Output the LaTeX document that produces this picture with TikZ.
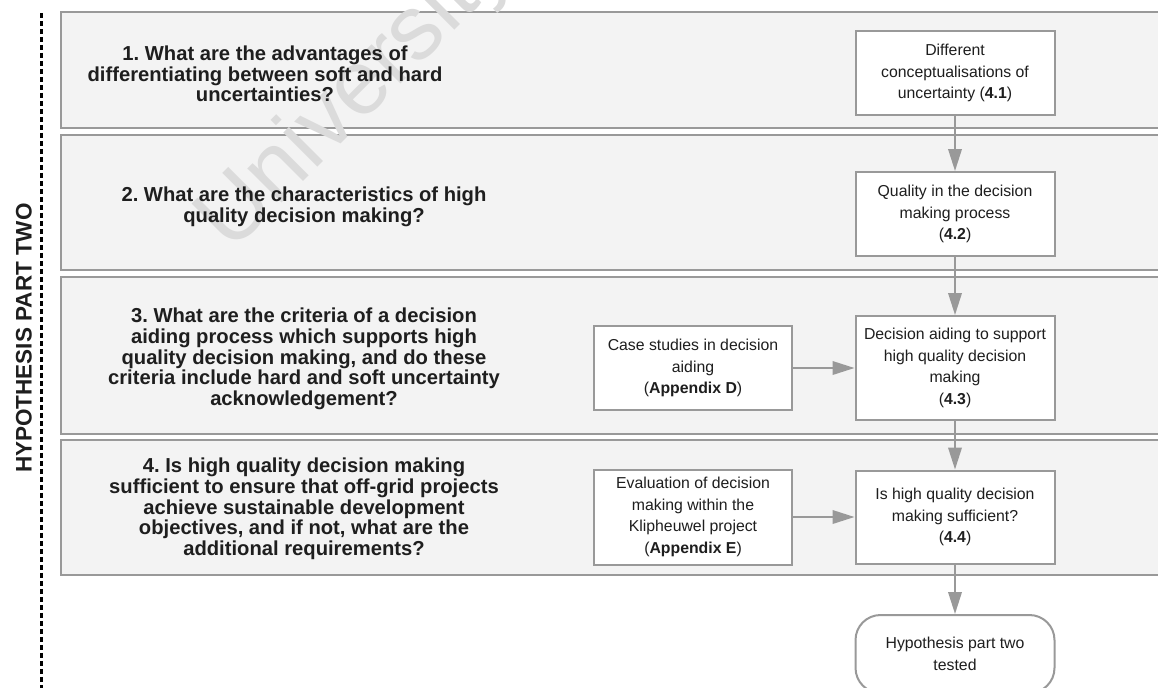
\documentclass[tikz,border=0pt]{standalone}
\usepackage{fontspec}
\setmainfont{Liberation Sans}
\usetikzlibrary{arrows.meta}
\definecolor{bandfill}{HTML}{F3F3F3}
\definecolor{lineg}{HTML}{999999}
\definecolor{txt}{HTML}{1E1E1E}

\tikzset{
  band/.style={draw=lineg, line width=0.05cm, fill=bandfill},
  question/.style={align=center, text=txt, inner sep=0pt,
    font=\fontsize{11.5}{11.8}\selectfont\bfseries\frenchspacing},
  topicbox/.style={draw=lineg, line width=0.04cm, fill=white, align=center,
    text=txt, inner sep=0pt, minimum width=3.98cm,
    font=\fontsize{9}{12.4}\selectfont},
  flowarrow/.style={draw=lineg, line width=0.04cm,
    -{Triangle[length=0.44cm,width=0.27cm]}},
}

\begin{document}
\begin{tikzpicture}[x=0.02cm, y=-0.02cm]
\useasboundingbox (0,0) rectangle (1158,687);

% bands
\draw[band] (61,12) rectangle (1180,128);
\draw[band] (61,135) rectangle (1180,270);
\draw[band] (61,277) rectangle (1180,434);
\draw[band] (61,440) rectangle (1180,575);

% watermark
\node[rotate=45, text=black!14, inner sep=0pt, font=\fontsize{52}{52}\selectfont, anchor=base west] (mark) at (231,254) {University};

% side label
\draw[black, line width=0.06cm, dash pattern=on 0.1cm off 0.06cm] (41,13) -- (41,700);
\node[rotate=90, font=\fontsize{12.8}{13}\selectfont\bfseries, text=txt] (hyp) at (24,338) {HYPOTHESIS PART TWO};

% questions
{
\node[question] (qone) at (265,74) {1. What are the advantages of\\differentiating between soft and hard\\uncertainties?};
\node[question] (qtwo) at (304,207) {2. What are the characteristics of high\\quality decision making?};
\node[question] (qthree) at (304,359) {3. What are the criteria of a decision\\aiding process which supports high\\quality decision making, and do these\\criteria include hard and soft uncertainty\\acknowledgement?};
\node[question] (qfour) at (304,509) {4. Is high quality decision making\\sufficient to ensure that off-grid projects\\achieve sustainable development\\objectives, and if not, what are the\\additional requirements?};
}

% boxes
{
\node[topicbox, minimum height=1.68cm] (concept) at (955,73) {Different\\conceptualisations of\\uncertainty (\textbf{4.1})};
\node[topicbox, minimum height=1.68cm] (quality) at (955,214) {Quality in the decision\\making process\\(\textbf{4.2})};
\node[topicbox, minimum height=2.08cm] (aiding) at (955,368) {Decision aiding to support\\high quality decision\\making\\(\textbf{4.3})};
\node[topicbox, minimum height=1.86cm] (suffic) at (955,517) {Is high quality decision\\making sufficient?\\(\textbf{4.4})};
\node[topicbox, minimum height=1.68cm] (cases) at (693,368) {Case studies in decision\\aiding\\(\textbf{Appendix D})};
\node[topicbox, minimum height=1.90cm] (klip) at (693,517) {Evaluation of decision\\making within the\\Klipheuwel project\\(\textbf{Appendix E})};
\node[topicbox, minimum height=1.56cm, rounded corners=0.5cm] (tested) at (955,654) {Hypothesis part two\\tested};
}

% arrows
\draw[flowarrow] (concept) -- (quality);
\draw[flowarrow] (quality) -- (aiding);
\draw[flowarrow] (aiding) -- (suffic);
\draw[flowarrow] (suffic) -- (tested);
\draw[flowarrow] (cases) -- (aiding);
\draw[flowarrow] (klip) -- (suffic);

\end{tikzpicture}
\end{document}
